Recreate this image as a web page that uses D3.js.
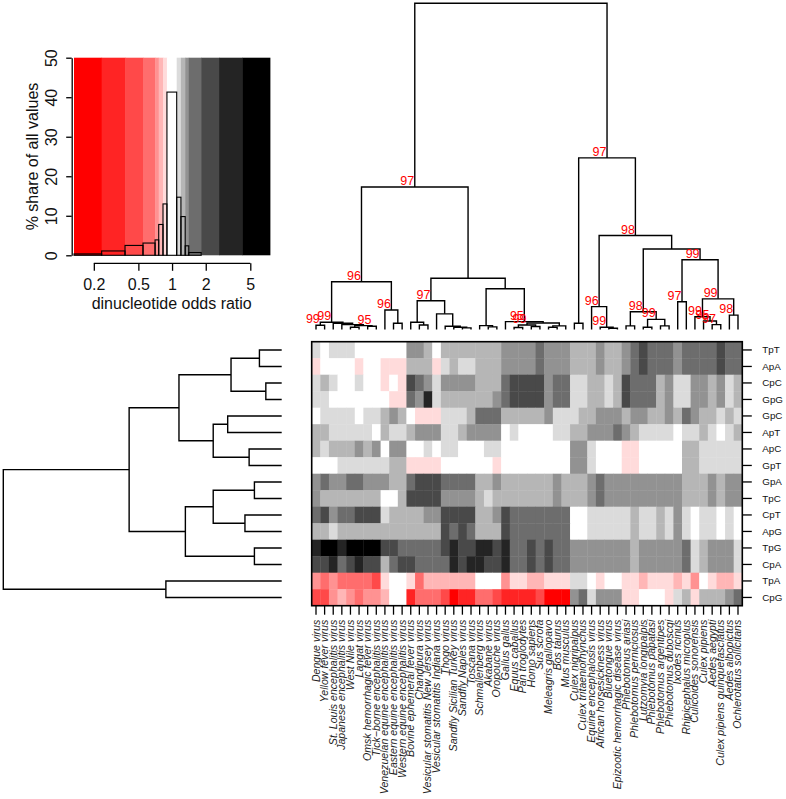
<!DOCTYPE html>
<html>
<head>
<meta charset="utf-8">
<script src="https://cdn.jsdelivr.net/npm/d3@7"></script>
<style>
  body { margin: 0; background: #fff; }
  svg { display: block; }
  text { font-family: "Liberation Sans", Arial, Helvetica, sans-serif; }
</style>
</head>
<body>
<svg id="chart" width="786" height="799"></svg>
<script>
// ---------------- DATA ----------------
const rowLabels = ["TpT","ApA","CpC","GpG","GpC","ApT","ApC","GpT","GpA","TpC","CpT","ApG","TpG","CpA","TpA","CpG"];

const colLabels = [
  "Dengue virus","Yellow fever virus","St. Louis encephalitis virus","Japanese encephalitis virus",
  "West Nile virus","Langat virus","Omsk hemorrhagic fever virus","Tick\u2212borne encephalitis virus",
  "Venezuelan equine encephalitis virus","Eastern equine encephalitis virus","Western equine encephalitis virus",
  "Bovine ephemeral fever virus","Chandipura virus","Vesicular stomatitis New Jersey virus",
  "Vesicular stomatitis Indiana virus","Thogo virus","Sandfly Sicilian Turkey virus","Sandfly Naples virus",
  "Toscana virus","Schmallenberg virus","Akabane virus","Oropouche virus","Gallus gallus","Equus caballus",
  "Pan troglodytes","Homo sapiens","Sus scrofa","Meleagris gallopavo","Bos taurus","Mus musculus",
  "Culex nigripalpus","Culex tritaeniorhynchus","Equine encephalosis virus","African horsesickness virus",
  "Bluetongue virus","Epizootic hemorrhagic disease virus","Phlebotomus ariasi","Phlebotomus perniciosus",
  "Lutzomyia longipalpis","Phlebotomus papatasi","Phlebotomus argentipes","Phlebotomus duboscqi",
  "Ixodes ricinus","Rhipicephalus microplus","Culicoides sonorensis","Culex pipiens","Aedes aegypti",
  "Culex pipiens quinquefasciatus","Aedes albopictus","Ochlerotatus sollicitans"
];

// dinucleotide odds ratios (rows x columns)
const oddsTpT = [1.15,1,1.15,1.15,1.15,1,1,1,1,1,1,1.36,1.36,1.25,1,1.25,1.25,1.25,1.25,1.25,1.25,1.25,1.36,1.36,1.36,
                 1.36,1.6,1.36,1.36,1.36,1.25,1.25,1.25,1.36,1.25,1.25,1.36,1.6,2.2,1.6,1.6,1.6,1.36,1.6,1.6,1.6,1.6,2.2,1.6,1.6];
const oddsApA = [.87,1,1,1,1,.87,1,1,.87,.87,.87,1.25,1.25,1.25,.87,1.15,1.25,1.15,1.15,1.25,1.25,1.25,1.36,1.36,1.36,
                 1.36,1.6,1.36,1.36,1.36,1.25,1.25,1.25,1.36,1.25,1.25,1.36,1.6,2.2,1.6,1.6,1.6,1.36,1.6,1.6,1.6,1.6,2.2,1.6,1.6];
const oddsCpC = [1.15,1.25,1.15,1,1,1.15,1,1,.87,1,.87,2.2,1.6,1.36,1.15,1.36,1.36,1.36,1.36,1.25,1.25,1.25,1.6,2.2,2.2,
                 2.2,2.2,1.36,1.6,1.6,1.15,1.15,1.25,1.25,1.15,1.25,2.2,1.6,1.6,1.6,1.25,1.36,1.15,1.15,1.36,1.36,1.25,1.36,1.15,1.25];
const oddsGpG = [1.15,1.15,1,1,1,1,1,1,1,.87,.87,1.6,1.36,3.3,1.15,1.25,1.25,1.25,1.25,1.25,1.25,1.36,1.6,2.2,2.2,
                 2.2,2.2,1.36,1.6,1.6,1.15,1.15,1.25,1.25,1.15,1.25,2.2,1.6,1.6,1.6,1.25,1.36,1.15,1.15,1.36,1.36,1.25,1.36,1.15,1.25];
const oddsGpC = [1,1.15,1.15,1.15,1.15,1,1.15,1.15,1.25,1.36,1.25,1,.87,.87,.87,1.15,1.15,1.15,1.25,1.6,1.6,1.6,1.25,1.25,1.25,
                 1.25,1.25,1.36,1.15,1.15,1.15,1.25,1.25,1.36,1.36,1.36,1.25,1.36,1.36,1.25,1.25,1.36,1.25,1.6,1.36,1.25,1.25,1.15,1.25,1.15];
const oddsApT = [1.25,1.25,1.15,1.15,1.15,1.15,1.15,1,1.25,1.15,1.15,1.25,1.36,1.36,1.36,1.15,1.15,1.25,1.36,1.36,1.36,1.36,1,1.15,1,
                 1,1,1,1.15,1.15,1.25,1.25,1.36,1.36,1.36,1.6,1.36,1.25,1.15,1.15,1.15,1.15,1,1.15,1.15,1.25,1.15,1,1.15,1.25];
const oddsApC = [1.25,1.15,1.25,1.25,1.25,1.36,1.25,1.36,1,1.36,1.36,1,1,1.15,1,1.15,1.15,1,1,1,1.15,1.15,1,1,1,
                 1,1,1,1,1,1.36,1.36,1.15,1,1,1,.87,.87,1,1,1,1,1,1.25,1.25,1.15,1.15,1.15,1.15,1.15];
const oddsGpT = [1,1,1,1.15,1.15,1.15,1.15,1.15,1.15,1.25,1.25,.87,.87,.87,.87,1,1,1,1,1,1,.87,1,1,1,
                 1,1,1,1,1,1.36,1.36,1.15,1,1,1,.87,.87,1,1,1,1,1,1.25,1.25,1.15,1.15,1.15,1.15,1.15];
const oddsGpA = [1.36,1.6,1.36,1.36,1.6,1.6,1.36,1.36,1.36,1.25,1.25,1.6,2.2,2.2,2.2,1.6,1.6,1.6,1.6,1.25,1.25,1.36,1.25,1.25,1.25,
                 1.25,1.25,1.25,1.36,1.25,1.25,1.25,1.36,1.6,1.36,1.36,1.36,1.36,1.36,1.36,1.36,1.36,1.36,1.25,1.25,1.25,1.36,1.25,1.36,1.36];
const oddsTpC = [1.36,1.25,1.25,1.25,1.25,1.25,1.25,1.25,1,1,1.25,2.2,2.2,2.2,2.2,1.36,1.36,1.36,1.36,1.25,1.15,1.25,1.25,1.25,1.25,
                 1.25,1.25,1.25,1.36,1.25,1.25,1.25,1.36,1.6,1.36,1.36,1.36,1.36,1.36,1.36,1.36,1.36,1.36,1.25,1.25,1.25,1.36,1.25,1.36,1.36];
const oddsCpT = [1.6,2.2,1.36,1.6,1.6,2.2,2.2,2.2,1.15,1.25,1.25,1.25,1.25,1.36,1.36,2.2,2.2,2.2,2.2,1.25,1.25,1.36,2.2,1.6,1.6,
                 1.6,1.6,1.6,1.6,1.6,1,1,1.15,1.15,1.15,1.15,1.15,1.25,1.15,1.15,1.25,1.15,1.36,1.15,1,1.15,1.15,1,1.15,1];
const oddsApG = [1.25,1.25,1.15,1.25,1.25,1.25,1.25,1.25,1.25,1.25,1.25,1.25,1.25,1.25,1.25,2.2,1.6,2.2,1.6,1.25,1.25,1.25,2.2,1.6,1.6,
                 1.6,1.6,1.6,1.6,1.6,1,1,1.15,1.15,1.15,1.15,1.15,1.25,1.15,1.15,1.25,1.15,1.36,1.15,1,1.15,1.15,1,1.15,1];
const oddsTpG = [3.3,5,5,3.3,5,5,5,5,2.2,2.2,1.6,1.6,1.6,1.6,1.6,2.2,3.3,2.2,2.2,3.3,3.3,2.2,3.3,1.6,1.6,
                 2.2,1.6,2.2,1.6,1.6,1.36,1.36,1.36,1.36,1.36,1.36,1.36,1.25,1.36,1.36,1.36,1.36,1.36,1.6,1.15,1.25,1.36,1.36,1.36,1.15];
const oddsCpA = [2.2,2.2,3.3,1.6,2.2,3.3,2.2,2.2,1.25,1.6,2.2,2.2,1.6,1.6,1.6,1.6,3.3,2.2,3.3,3.3,2.2,2.2,3.3,1.6,1.6,
                 2.2,1.6,2.2,1.6,1.6,1.36,1.36,1.36,1.36,1.36,1.36,1.36,1.25,1.36,1.36,1.36,1.36,1.36,1.6,1.15,1.25,1.36,1.36,1.36,1.15];
const oddsTpA = [.73,.62,.73,.62,.62,.62,.62,.45,.87,1,1,.87,.62,.8,.8,.8,.8,.8,.8,1,1,1,.73,.87,.87,
                 .8,.8,.87,.87,.87,1.15,1.15,1,.87,1,1,.87,.87,.8,.87,.87,.87,.8,.87,.73,1,.87,.8,.8,.87];
const oddsCpG = [.45,.45,.73,.8,.73,.62,.73,.73,.8,1,1,.3,.62,.62,.62,.45,.18,.3,.3,.62,.62,.45,.3,.3,.3,
                 .3,.45,.18,.18,.18,1.36,1.6,1.15,1.36,1.36,1.36,.87,.87,1,1,1,.87,1.15,1.25,.87,1.25,1.25,1.25,1.36,1.6];

const oddsRatios = [oddsTpT, oddsApA, oddsCpC, oddsGpG, oddsGpC, oddsApT, oddsApC, oddsGpT,
                    oddsGpA, oddsTpC, oddsCpT, oddsApG, oddsTpG, oddsCpA, oddsTpA, oddsCpG];

// colour key
const keyBreaks = [0.133, 0.235, 0.38, 0.55, 0.705, 0.76, 0.83, 0.9, 1.1, 1.2, 1.31, 1.41, 1.82, 2.63, 4.25, 7.5];
const keyColours = ["#FF0000","#FF2424","#FF4949","#FF6D6D","#FF9292","#FFB6B6","#FFDBDB","#FFFFFF",
                    "#DBDBDB","#B6B6B6","#929292","#6D6D6D","#494949","#242424","#000000"];
const histShare = [0.35, 1.1, 2.5, 3.1, 3.9, 7.8, 13.0, 41.3, 14.7, 9.8, 2.4, 0.7, 0, 0, 0];
const keyTicks = [0.2, 0.5, 1, 2, 5];
const shareTicks = [0, 10, 20, 30, 40, 50];

// dendrograms: [height, bootstrap label, left, right]; numbers are leaf indices
const colTree =
[100, null,
  [43.7, 97,
    [14.65, 96,
      [2.2, 99,
        [1.3, 99, 0, 1],
        [1.9, null, 2, [1.5, null, 3, [1.2, null, [0.7, null, 4, 5], [1.0, 95, 6, 7]]]]],
      [6.0, 96, 8, [1.9, null, 9, 10]]],
    [15.7, null,
      [8.8, 97,
        [2.2, null, 11, [1.4, null, 12, 13]],
        [4.8, null, 14, [1.0, null, 15, [0.7, null, 16, [0.5, null, 17, 18]]]]],
      [12.5, null,
        [1.2, null, 19, [0.8, null, 20, 21]],
        [2.4, 95, 22, [2.0, null, [1.4, 99, [0.6, null, 23, 24], [0.9, null, 25, 26]],
                                   [1.1, null, [0.7, null, 27, 28], 29]]]]]],
  [52.6, 97,
    [1.9, null, 30, 31],
    [28.8, 98,
      [7.0, 96, 32, [0.7, 99, 33, [0.4, null, 34, 35]]],
      [24.7, null,
        [5.45, 98, [1.1, null, 36, 37], [3.1, 99, [0.7, null, 38, 39], [1.1, null, 40, 41]]],
        [21.4, 99,
          [8.5, 97, 42, 43],
          [9.4, 99, [3.9, 99, 44, [2.6, 95, 45, [1.5, 97, 46, 47]]], [4.4, 98, 48, 49]]]]]]];

const rowTree =
[100, null,
  [54.8, null,
    [36.9, null,
      [18.2, null, [8.0, null, 0, 1], [5.7, null, 2, 3]],
      [24.6, null, [19.4, null, 4, 5], [11.7, null, 6, 7]]],
    [34.6, null,
      [24.6, null, [9.8, null, 8, 9], [13.2, null, 10, 11]],
      [9.8, null, 12, 13]]],
  [41.6, null, 14, 15]];

// ---------------- DRAWING ----------------
const svg = d3.select("#chart");
const FONT = '"Liberation Sans", Arial, Helvetica, sans-serif';

// heatmap
const hmX = d3.scaleBand().domain(d3.range(colLabels.length)).range([311.7, 742.3]);
const hmY = d3.scaleBand().domain(d3.range(rowLabels.length)).range([341.7, 605.7]);
const colour = d3.scaleThreshold().domain(keyBreaks.slice(1, -1)).range(keyColours);

const cells = [];
oddsRatios.forEach((row, r) => row.forEach((v, c) => cells.push({r, c, v})));
svg.append("g").selectAll("rect").data(cells).join("rect")
  .attr("x", d => hmX(d.c)).attr("y", d => hmY(d.r))
  .attr("width", hmX.bandwidth() + 0.4).attr("height", hmY.bandwidth() + 0.4)
  .attr("fill", d => colour(d.v));

svg.append("rect")
  .attr("x", hmX.range()[0]).attr("y", hmY.range()[0])
  .attr("width", hmX.range()[1] - hmX.range()[0]).attr("height", hmY.range()[1] - hmY.range()[0])
  .attr("fill", "none").attr("stroke", "#000").attr("stroke-width", 1.6);

// bottom axis with column labels
const bAxis = svg.append("g").attr("transform", `translate(0,${hmY.range()[1]})`)
  .call(d3.axisBottom(hmX).tickSize(9).tickFormat(i => colLabels[i]));
bAxis.select(".domain").remove();
bAxis.selectAll("line").attr("stroke-width", 1.3);
bAxis.selectAll("text")
  .attr("x", -14).attr("y", 0).attr("dy", "0.33em")
  .attr("transform", "rotate(-90)")
  .style("text-anchor", "end")
  .style("font-family", FONT).style("font-size", "10.6px").style("font-style", "italic")
  .attr("fill", "#222");

// right axis with row labels
const rAxis = svg.append("g").attr("transform", `translate(${hmX.range()[1]},0)`)
  .call(d3.axisRight(hmY).tickSize(9.5).tickPadding(10.5).tickFormat(i => rowLabels[i]));
rAxis.select(".domain").remove();
rAxis.selectAll("line").attr("stroke-width", 1.3);
rAxis.selectAll("text").style("font-family", FONT).style("font-size", "9.8px").attr("fill", "#111");

// dendrogram helpers
function toNode(t) {
  if (typeof t === "number") return {leaf: t, h: 0};
  return {h: t[0], label: t[1], children: [toNode(t[2]), toNode(t[3])]};
}
function place(n, pos) {
  if (n.children) {
    n.children.forEach(c => place(c, pos));
    n.p = (n.children[0].p + n.children[1].p) / 2;
  } else n.p = pos(n.leaf);
}
function internal(n, out) {
  if (n.children) { out.push(n); n.children.forEach(c => internal(c, out)); }
  return out;
}

// column dendrogram (top)
const colRoot = toNode(colTree);
place(colRoot, i => hmX(i) + hmX.bandwidth() / 2);
const colH = d3.scaleLinear().domain([0, 100]).range([329.5, 3.3]);
const colNodes = internal(colRoot, []);
svg.append("g").selectAll("path").data(colNodes).join("path")
  .attr("d", n => {
    const [a, b] = n.children;
    return `M${a.p},${colH(a.h)}V${colH(n.h)}H${b.p}V${colH(b.h)}`;
  })
  .attr("fill", "none").attr("stroke", "#000").attr("stroke-width", 1.4);
svg.append("g").selectAll("text").data(colNodes.filter(n => n.label != null)).join("text")
  .attr("x", n => n.p - 0.5).attr("y", n => colH(n.h) - 2)
  .attr("text-anchor", "end")
  .style("font-family", FONT).style("font-size", "12.5px")
  .attr("fill", "#FF0000")
  .text(n => n.label);

// row dendrogram (left)
const rowRoot = toNode(rowTree);
place(rowRoot, i => hmY(i) + hmY.bandwidth() / 2);
const rowH = d3.scaleLinear().domain([0, 100]).range([281.7, 3.3]);
svg.append("g").selectAll("path").data(internal(rowRoot, [])).join("path")
  .attr("d", n => {
    const [a, b] = n.children;
    return `M${rowH(a.h)},${a.p}H${rowH(n.h)}V${b.p}H${rowH(b.h)}`;
  })
  .attr("fill", "none").attr("stroke", "#000").attr("stroke-width", 1.4);

// colour key with histogram
const kx = d3.scaleLog().domain([keyBreaks[0], keyBreaks[keyBreaks.length - 1]]).range([74, 270]);
const ky = d3.scaleLinear().domain([0, 50]).range([255.3, 57.7]);
const bins = keyColours.map((c, i) => ({x0: keyBreaks[i], x1: keyBreaks[i + 1], c, share: histShare[i]}));
const key = svg.append("g");
key.selectAll("rect.band").data(bins).join("rect").attr("class", "band")
  .attr("x", d => kx(d.x0)).attr("y", ky(50))
  .attr("width", d => kx(d.x1) - kx(d.x0) + 0.4).attr("height", ky(0) - ky(50))
  .attr("fill", d => d.c);
key.selectAll("rect.bar").data(bins.filter(d => d.share > 0)).join("rect").attr("class", "bar")
  .attr("x", d => kx(d.x0)).attr("y", d => ky(d.share))
  .attr("width", d => kx(d.x1) - kx(d.x0)).attr("height", d => ky(0) - ky(d.share))
  .attr("fill", "none").attr("stroke", "#000").attr("stroke-width", 1.1);

// key y axis
const yAx = key.append("g").attr("transform", "translate(71.7,0)")
  .call(d3.axisLeft(ky).tickValues(shareTicks).tickSize(5.5).tickSizeOuter(0));
yAx.selectAll("line, path").attr("stroke-width", 1.3);
yAx.selectAll("text")
  .attr("x", null).attr("dy", null)
  .attr("transform", "translate(-14.5,0) rotate(-90)")
  .style("text-anchor", "middle")
  .style("font-family", FONT).style("font-size", "16px").attr("fill", "#111");

// key x axis
const xAx = key.append("g").attr("transform", "translate(0,263.3)")
  .call(d3.axisBottom(kx).tickValues(keyTicks).tickFormat(d3.format("")).tickSize(7.5).tickPadding(7.5));
xAx.select(".domain").remove();
xAx.append("line").attr("x1", kx(keyTicks[0])).attr("x2", kx(keyTicks[keyTicks.length - 1]))
  .attr("stroke", "#000");
xAx.selectAll("line").attr("stroke-width", 1.3);
xAx.selectAll("text").style("font-family", FONT).style("font-size", "16px").attr("fill", "#111");

key.append("text").attr("x", 171.7).attr("y", 308.5).attr("text-anchor", "middle")
  .style("font-family", FONT).style("font-size", "16px").attr("fill", "#111")
  .text("dinucleotide odds ratio");
key.append("text").attr("transform", "translate(38.3,156.5) rotate(-90)").attr("text-anchor", "middle")
  .style("font-family", FONT).style("font-size", "16px").attr("fill", "#111")
  .text("% share of all values");
</script>
</body>
</html>
